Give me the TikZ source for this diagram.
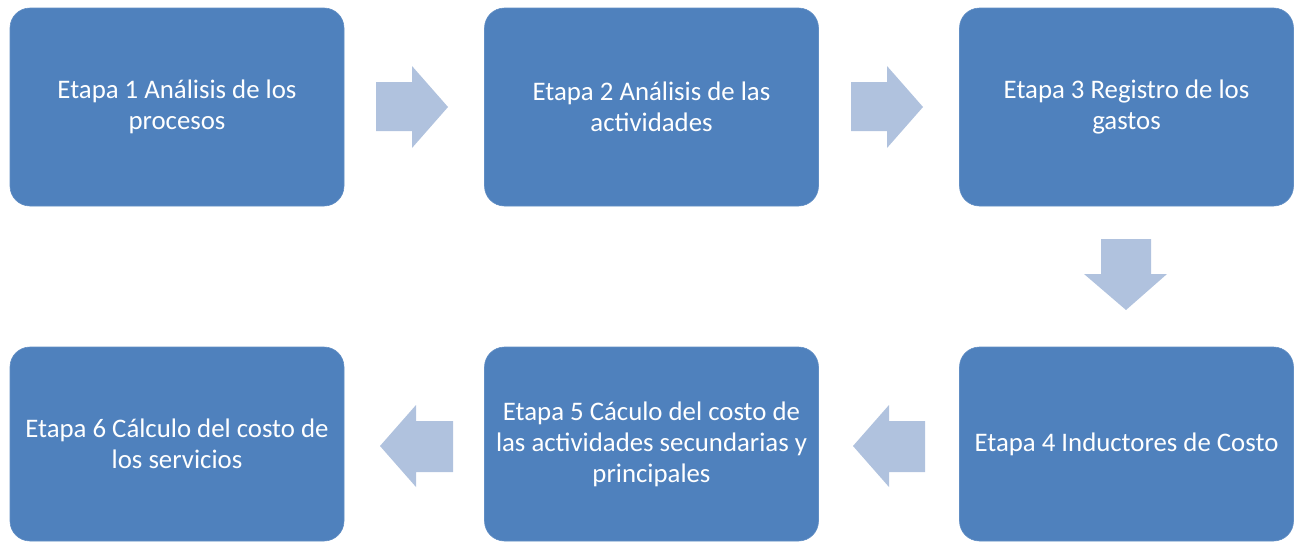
\documentclass[tikz,border=0pt]{standalone}
\usepackage{fontspec}
\setmainfont{Carlito}
\definecolor{boxblue}{HTML}{4F81BD}
\definecolor{arrowblue}{HTML}{B0C2DE}
\begin{document}
\begin{tikzpicture}[x=1pt,y=-1pt,
  stage/.style={draw=boxblue!90!white, line width=0.6pt, fill=boxblue, rounded corners=20pt,
    minimum width=334pt, minimum height=198pt, align=center, text=white,
    font=\fontsize{26.8}{31}\selectfont, inner sep=0pt},
  flow/.style={fill=arrowblue, draw=none}]
\useasboundingbox (0,0) rectangle (1296,541);
\node[stage] (s1) at (177,107) {Etapa 1 Análisis de los\\procesos};
\node[stage] (s2) at (651.5,107) {Etapa 2 Análisis de las\\actividades};
\node[stage] (s3) at (1126.5,107) {Etapa 3 Registro de los\\gastos};
\node[stage, minimum height=194pt] (s4) at (1126.5,444) {Etapa 4 Inductores de Costo};
\node[stage, minimum height=194pt] (s5) at (651.5,444) {Etapa 5 Cáculo del costo de\\las actividades secundarias y\\principales};
\node[stage, minimum height=194pt] (s6) at (177,444) {Etapa 6 Cálculo del costo de\\los servicios};
% right arrows
\path[flow] (376,82) -- (412,82) -- (412,66) -- (448,107) -- (412,148) -- (412,131) -- (376,131) -- cycle;
\path[flow] (851,82) -- (887,82) -- (887,66) -- (923,107) -- (887,148) -- (887,131) -- (851,131) -- cycle;
% down arrow
\path[flow] (1101,239) -- (1151,239) -- (1151,274) -- (1167,274) -- (1126,310) -- (1084,274) -- (1101,274) -- cycle;
% left arrows
\path[flow] (925,421) -- (889,421) -- (889,405) -- (853,446) -- (889,487) -- (889,472) -- (925,472) -- cycle;
\path[flow] (453,421) -- (416,421) -- (416,405) -- (380,446) -- (416,487) -- (416,472) -- (453,472) -- cycle;
\end{tikzpicture}
\end{document}
